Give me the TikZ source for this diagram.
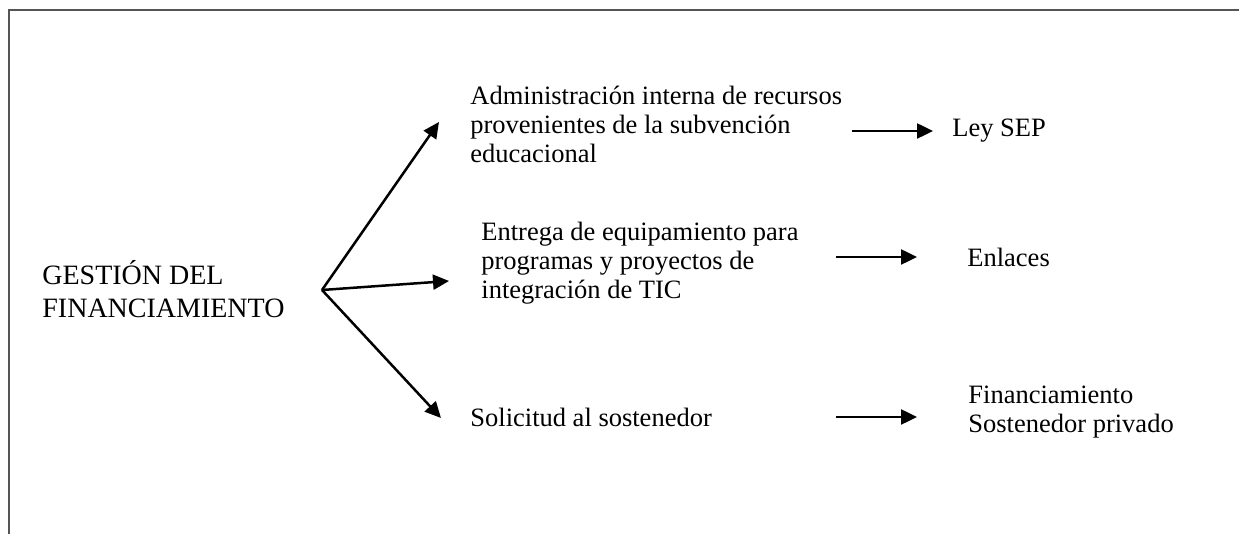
\documentclass[tikz,border=0pt]{standalone}
\usepackage{fontspec}
\setmainfont{Liberation Serif}
\usetikzlibrary{arrows.meta}
\begin{document}
\begin{tikzpicture}[x=0.5pt,y=-0.5pt,
  txt/.style={anchor=west,align=left,inner sep=0pt,font=\fontsize{13.25}{14.5}\selectfont},
  conn/.style={line width=1.25pt,-{Triangle[length=8pt,width=7.5pt]}},
  frame/.style={line width=1.2pt,draw={rgb,255:red,85;green,85;blue,85}}]
\useasboundingbox (0,0) rectangle (1239,534);
\draw[frame] (9,534) -- (9,10) -- (1239,10);
% texts
\node[txt,font=\fontsize{14}{16.5}\selectfont] (root) at (42,289) {GESTIÓN DEL\\FINANCIAMIENTO};
\node[txt] (a1) at (470,124) {Administración interna de recursos\\provenientes de la subvención\\educacional};
\node[txt] (a2) at (481,263) {Entrega de equipamiento para\\programas y proyectos de\\integración de TIC};
\node[txt] (a3) at (470,417) {Solicitud al sostenedor};
\node[txt] (b1) at (952,131) {Ley SEP};
\node[txt] (b2) at (967,257) {Enlaces};
\node[txt] (b3) at (968,412) {Financiamiento\\Sostenedor privado};
% connector points
\coordinate (hub) at (322,290);
\coordinate (t1) at (439,122);
\coordinate (t2) at (449,281);
\coordinate (t3) at (441,418);
\coordinate (s1) at (852,131);
\coordinate (e1) at (933,131);
\coordinate (s2) at (836,257);
\coordinate (e2) at (917,257);
\coordinate (s3) at (836,417);
\coordinate (e3) at (917,417);
\draw[conn] (hub) -- (t1);
\draw[conn] (hub) -- (t2);
\draw[conn] (hub) -- (t3);
\draw[conn] (s1) -- (e1);
\draw[conn] (s2) -- (e2);
\draw[conn] (s3) -- (e3);
\end{tikzpicture}
\end{document}
